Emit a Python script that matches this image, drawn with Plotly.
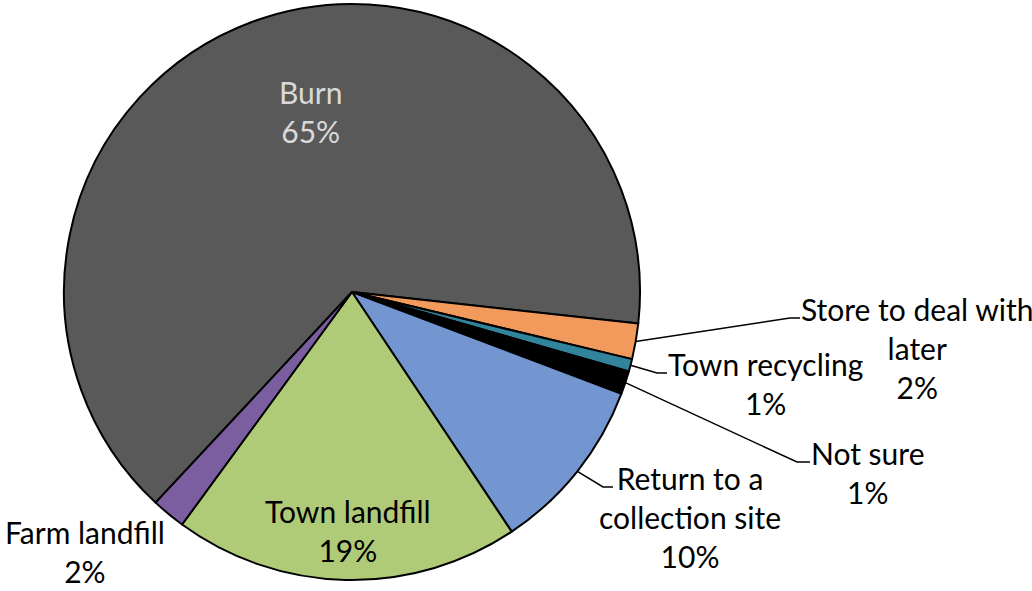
import math
import plotly.graph_objects as go

# ---- data ----
categories = ["Burn", "Store to deal with later", "Town recycling", "Not sure",
              "Return to a collection site", "Town landfill", "Farm landfill"]
display_labels = ["Burn", "Store to deal with<br>later", "Town recycling", "Not sure",
                  "Return to a<br>collection site", "Town landfill", "Farm landfill"]
values = [64.8, 2.0, 0.7, 1.3, 9.9, 19.4, 1.9]
colors = ["#595959", "#F29A5C", "#31849B", "#000000", "#7395D0", "#AFCB78", "#7B5EA0"]

W, H = 1032, 591
CX, CY, R = 352, 292, 288
START = 223.0  # clockwise degrees from 12 o'clock where first slice starts

fig = go.Figure(go.Pie(
    labels=categories,
    values=values,
    sort=False,
    direction="clockwise",
    rotation=START,
    marker=dict(colors=colors, line=dict(color="#000000", width=2)),
    textinfo="none",
    hoverinfo="label+percent",
    showlegend=False,
    domain=dict(x=[(CX - R) / W, (CX + R) / W], y=[(H - CY - R) / H, (H - CY + R) / H]),
))

total = sum(values)
pcts = [f"{round(v / total * 100)}%" for v in values]

# mid angle of each slice (clockwise from top)
mids = []
acc = 0.0
for v in values:
    a0 = START + acc / total * 360
    acc += v
    a1 = START + acc / total * 360
    mids.append((a0 + a1) / 2)

def rim(angle):
    t = math.radians(angle)
    return CX + R * math.sin(t), CY - R * math.cos(t)

def px(x, y):
    return x / W, 1 - y / H

# label layout: (center x, middle y, text color, elbow point, line end) in pixels
label_layout = {
    0: dict(x=310, y=112, color="#D9D9D9", elbow=None),
    1: dict(x=917, y=348, color="#000000", elbow=((790, 318), (800, 318))),
    2: dict(x=765, y=383, color="#000000", elbow=((657, 373), (667, 373))),
    3: dict(x=867, y=472, color="#000000", elbow=((797, 462), (810, 462))),
    4: dict(x=690, y=517, color="#000000", elbow=((603, 487), (613, 487))),
    5: dict(x=348, y=530, color="#000000", elbow=None),
    6: dict(x=85, y=551, color="#000000", elbow=None),
}

font_family = "Lato"
for i, lay in label_layout.items():
    xp, yp = px(lay["x"], lay["y"])
    fig.add_annotation(
        x=xp, y=yp, xref="paper", yref="paper",
        text=f"{display_labels[i]}<br>{pcts[i]}",
        showarrow=False, xanchor="center", yanchor="middle", align="center",
        borderpad=0,
        font=dict(family=font_family, size=30, color=lay["color"]),
    )
    if lay["elbow"]:
        sx, sy = rim(mids[i])
        (ex, ey), (fx, fy) = lay["elbow"]
        p0, p1, p2 = px(sx, sy), px(ex, ey), px(fx, fy)
        fig.add_shape(
            type="path", xref="paper", yref="paper",
            path=f"M {p0[0]} {p0[1]} L {p1[0]} {p1[1]} L {p2[0]} {p2[1]}",
            line=dict(color="#000000", width=1.5),
        )

fig.update_layout(
    width=W, height=H,
    margin=dict(l=0, r=0, t=0, b=0),
    paper_bgcolor="#FFFFFF",
    plot_bgcolor="#FFFFFF",
    font=dict(family=font_family),
)

fig.write_html(
    "out.html",
    config={"displayModeBar": False},
    post_script="document.body.style.margin='0';document.body.style.overflow='hidden';",
)
